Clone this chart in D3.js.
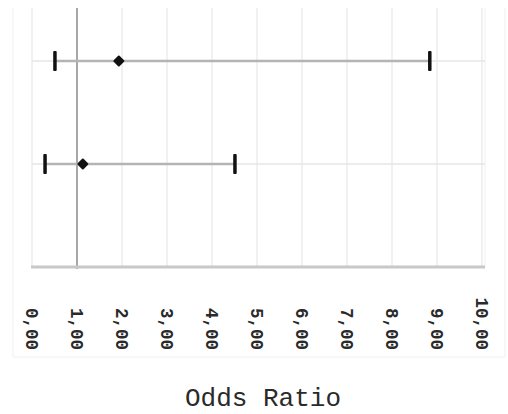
<!DOCTYPE html>
<html>
<head>
<meta charset="utf-8">
<script src="https://cdn.jsdelivr.net/npm/d3@7"></script>
<style>
  body { margin: 0; background: #fff; }
  text { font-family: "Courier New", "Liberation Mono", monospace; fill: #2a2a2a; }
</style>
</head>
<body>
<svg id="chart" width="508" height="414"></svg>
<script>
// rows top to bottom
const rows = ['A', 'B'];
const oddsRatio = [1.93, 1.13];
const ciLower = [0.51, 0.29];
const ciUpper = [8.84, 4.51];
const tickValues = [0, 1, 2, 3, 4, 5, 6, 7, 8, 9, 10];

const svg = d3.select('#chart');
const plot = { top: 8, bottom: 267, left: 32, right: 485 };

const x = d3.scaleLinear().domain([0, 10]).range([32, 482]);
const y = d3.scalePoint().domain(rows).range([61, 164]);

// faint outer frame
svg.append('path')
  .attr('d', `M13,8 V357 H505 V8`)
  .attr('fill', 'none')
  .attr('stroke', '#f0f0f0');

// vertical grid
svg.append('g')
  .selectAll('line')
  .data(tickValues)
  .join('line')
  .attr('x1', d => x(d)).attr('x2', d => x(d))
  .attr('y1', plot.top).attr('y2', plot.bottom)
  .attr('stroke', '#ededed')
  .attr('stroke-width', 1.5);

svg.append('line')
  .attr('x1', plot.right).attr('x2', plot.right)
  .attr('y1', plot.top).attr('y2', plot.bottom)
  .attr('stroke', '#f0f0f0');

// horizontal grid at each row
svg.append('g')
  .selectAll('line')
  .data(rows)
  .join('line')
  .attr('x1', plot.left).attr('x2', plot.right)
  .attr('y1', d => y(d)).attr('y2', d => y(d))
  .attr('stroke', '#e6e6e6')
  .attr('stroke-width', 1.5);

// reference line at 1
svg.append('line')
  .attr('x1', x(1)).attr('x2', x(1))
  .attr('y1', plot.top).attr('y2', plot.bottom + 2)
  .attr('stroke', '#a8a8a8')
  .attr('stroke-width', 2);

// bottom axis line
svg.append('line')
  .attr('x1', plot.left - 1).attr('x2', plot.right)
  .attr('y1', plot.bottom).attr('y2', plot.bottom)
  .attr('stroke', '#c8c8c8')
  .attr('stroke-width', 3);

const data = rows.map((r, i) => ({ row: r, or: oddsRatio[i], lo: ciLower[i], hi: ciUpper[i] }));

const g = svg.append('g');

// CI lines
g.selectAll('.ci')
  .data(data)
  .join('line')
  .attr('class', 'ci')
  .attr('x1', d => x(d.lo)).attr('x2', d => x(d.hi))
  .attr('y1', d => y(d.row)).attr('y2', d => y(d.row))
  .attr('stroke', '#b4b4b4')
  .attr('stroke-width', 2.5);

// caps
const caps = data.flatMap(d => [{ row: d.row, v: d.lo }, { row: d.row, v: d.hi }]);
g.selectAll('.cap')
  .data(caps)
  .join('rect')
  .attr('class', 'cap')
  .attr('x', d => x(d.v) - 1.75)
  .attr('y', d => y(d.row) - 10)
  .attr('width', 3.5)
  .attr('height', 20)
  .attr('rx', 1)
  .attr('fill', '#111');

// point estimates (square turned 45deg)
g.selectAll('.pt')
  .data(data)
  .join('path')
  .attr('class', 'pt')
  .attr('transform', d => `translate(${x(d.or)},${y(d.row)}) rotate(45)`)
  .attr('d', d3.symbol(d3.symbolSquare, 40))
  .attr('fill', '#111')
  .attr('stroke', '#111')
  .attr('stroke-linejoin', 'round')
  .attr('stroke-width', 2);

// rotated tick labels
const fmt = d => d3.format('.2f')(d).replace('.', ',');
svg.append('g')
  .selectAll('text')
  .data(tickValues)
  .join('text')
  .attr('transform', d => `translate(${x(d)},350) rotate(90)`)
  .attr('text-anchor', 'end')
  .attr('dy', '0.35em')
  .style('font-size', '17.5px')
  .style('font-weight', 'bold')
  .text(fmt);

// axis title
svg.append('text')
  .attr('x', 263)
  .attr('y', 406)
  .attr('text-anchor', 'middle')
  .style('font-size', '26px')
  .text('Odds Ratio');
</script>
</body>
</html>
